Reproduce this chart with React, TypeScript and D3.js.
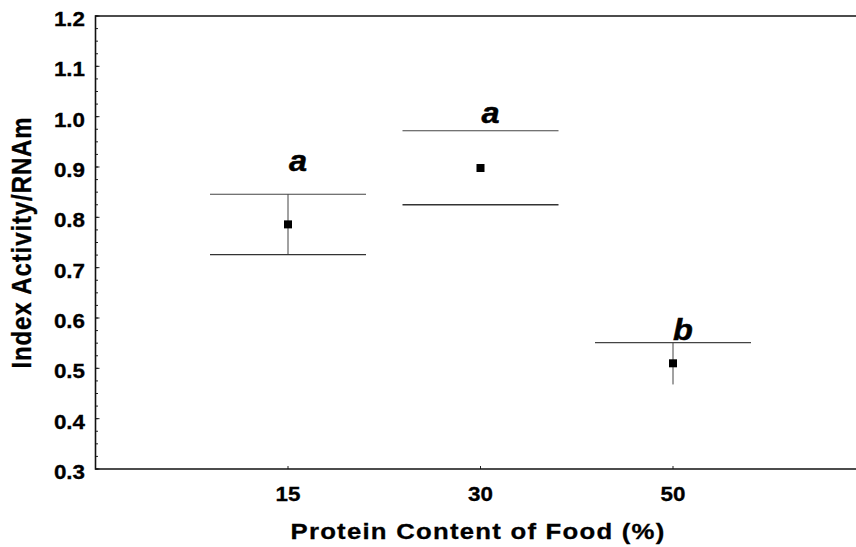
import React from "react";
import * as d3 from "d3";

const categories = ["15", "30", "50"];
const means = [0.786, 0.898, 0.51];
const upper = [0.846, 0.972, 0.551];
const lower = [0.726, 0.825, 0.468];
const showUpperCap = [true, true, true];
const showLowerCap = [true, true, false];
const showWhisker = [true, false, true];
const groupLabels = ["a", "a", "b"];
const labelValues = [0.892, 0.987, 0.556];
const yTicks = [0.3, 0.4, 0.5, 0.6, 0.7, 0.8, 0.9, 1.0, 1.1, 1.2];
const yMinorTicks = d3.range(0.3, 1.2001, 0.025);

const W = 856;
const H = 547;
const left = 95.5;
const top = 16;
const bottom = 469;
const SX = 1.12;

export default function App() {
  const x = d3.scaleLinear().domain([0, 4]).range([left, 865.5]);
  const y = d3.scaleLinear().domain([0.3, 1.2]).range([bottom, top]);
  const capHalf = 78;
  const font = "'Liberation Sans', Arial, sans-serif";
  return (
    <svg
      width={W}
      height={H}
      style={{ position: "absolute", left: 0, top: 0, background: "#fff" }}
    >
      {yMinorTicks.map((t, i) => (
        <line key={"m" + i} x1={left} x2={left + 2.5} y1={y(t)} y2={y(t)} stroke="#222" strokeWidth={1} />
      ))}
      {yTicks.map((t) => (
        <g key={"t" + t}>
          <line x1={left} x2={left + 4} y1={y(t)} y2={y(t)} stroke="#222" strokeWidth={1} />
          <text
            transform={`translate(85, ${y(t) + 10}) scale(${SX}, 1)`}
            textAnchor="end"
            fontFamily={font}
            fontWeight="bold"
            fontSize={20}
            stroke="#000"
            strokeWidth={0.3}
            fill="#000"
          >
            {t.toFixed(1)}
          </text>
        </g>
      ))}
      {categories.map((c, i) => (
        <g key={"x" + c}>
          <line x1={x(i + 1)} x2={x(i + 1)} y1={bottom} y2={bottom - 3} stroke="#222" strokeWidth={1} />
          <text
            transform={`translate(${x(i + 1)}, 501) scale(${SX}, 1)`}
            textAnchor="middle"
            fontFamily={font}
            fontWeight="bold"
            fontSize={20}
            stroke="#000"
            strokeWidth={0.3}
            fill="#000"
          >
            {c}
          </text>
        </g>
      ))}
      <line x1={left} x2={W} y1={top} y2={top} stroke="#111" strokeWidth={1.6} />
      <line x1={left} x2={W} y1={bottom} y2={bottom} stroke="#111" strokeWidth={1.6} />
      <line x1={left} x2={left} y1={top - 0.8} y2={bottom + 0.8} stroke="#111" strokeWidth={1.6} />

      {categories.map((c, i) => {
        const cx = x(i + 1);
        return (
          <g key={"e" + c}>
            {showWhisker[i] && (
              <line x1={cx} x2={cx} y1={y(upper[i])} y2={y(lower[i])} stroke="#444" strokeWidth={1} />
            )}
            {showUpperCap[i] && (
              <line x1={cx - capHalf} x2={cx + capHalf} y1={y(upper[i])} y2={y(upper[i])} stroke="#444" strokeWidth={1.1} />
            )}
            {showLowerCap[i] && (
              <line x1={cx - capHalf} x2={cx + capHalf} y1={y(lower[i])} y2={y(lower[i])} stroke="#333" strokeWidth={1.3} />
            )}
            <rect x={cx - 4} y={y(means[i]) - 4} width={8} height={8} fill="#000" />
            <text
              transform={`translate(${cx + 10}, ${y(labelValues[i])}) scale(${SX}, 1)`}
              textAnchor="middle"
              fontFamily={font}
              fontWeight="bold"
              fontStyle="italic"
              fontSize={29}
              stroke="#000"
              strokeWidth={0.5}
              fill="#000"
            >
              {groupLabels[i]}
            </text>
          </g>
        );
      })}

      <text
        transform={`translate(478, 539) scale(${SX}, 1)`}
        textAnchor="middle"
        fontFamily={font}
        fontWeight="bold"
        fontSize={23}
        letterSpacing={1.1}
        stroke="#000"
        strokeWidth={0.3}
        fill="#000"
      >
        Protein Content of Food (%)
      </text>
      <text
        transform={`translate(31, ${(top + bottom) / 2}) rotate(-90) scale(1, ${SX})`}
        textAnchor="middle"
        fontFamily={font}
        fontWeight="bold"
        fontSize={24}
        letterSpacing={0.9}
        stroke="#000"
        strokeWidth={0.3}
        fill="#000"
      >
        Index Activity/RNAm
      </text>
    </svg>
  );
}
